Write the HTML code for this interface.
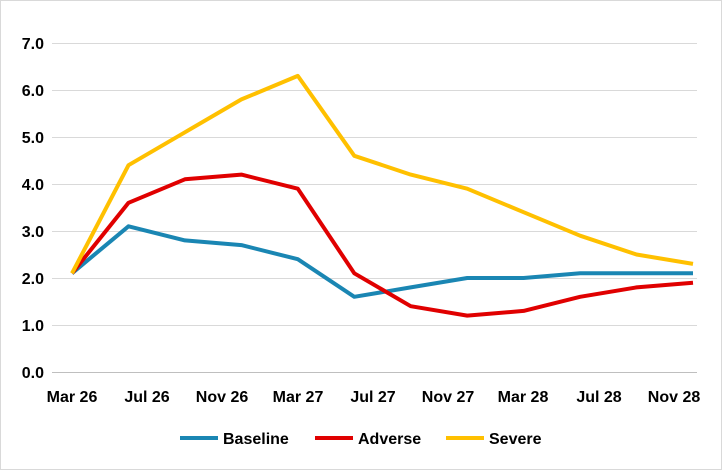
<!DOCTYPE html>
<html><head><style>
body{margin:0;background:#fff;}
svg{display:block;font-family:"Liberation Sans",Arial,sans-serif;}
</style></head><body>
<svg width="722" height="470" viewBox="0 0 722 470" xmlns="http://www.w3.org/2000/svg">
<rect x="0.5" y="0.5" width="721" height="469" fill="#fff" stroke="#d9d9d9"/>
<g stroke="#d9d9d9" stroke-width="1">
<line x1="52" x2="697" y1="43.5" y2="43.5"/>
<line x1="52" x2="697" y1="90.5" y2="90.5"/>
<line x1="52" x2="697" y1="137.5" y2="137.5"/>
<line x1="52" x2="697" y1="184.5" y2="184.5"/>
<line x1="52" x2="697" y1="231.5" y2="231.5"/>
<line x1="52" x2="697" y1="278.5" y2="278.5"/>
<line x1="52" x2="697" y1="325.5" y2="325.5"/>
</g>
<line x1="52" x2="697" y1="372.5" y2="372.5" stroke="#bfbfbf"/>
<g font-size="16" font-weight="bold" fill="#000" text-anchor="end">
<text x="44" y="49">7.0</text><text x="44" y="96">6.0</text><text x="44" y="143">5.0</text>
<text x="44" y="190">4.0</text><text x="44" y="237">3.0</text><text x="44" y="284">2.0</text>
<text x="44" y="331">1.0</text><text x="44" y="378">0.0</text>
</g>
<g font-size="16" font-weight="bold" fill="#000" text-anchor="middle">
<text x="72" y="402">Mar 26</text><text x="147" y="402">Jul 26</text><text x="222" y="402">Nov 26</text>
<text x="298" y="402">Mar 27</text><text x="373" y="402">Jul 27</text><text x="448" y="402">Nov 27</text>
<text x="523" y="402">Mar 28</text><text x="599" y="402">Jul 28</text><text x="674" y="402">Nov 28</text>
</g>
<g fill="none" stroke-width="4" stroke-linejoin="round">
<polyline stroke="#1a86b3" points="72,273.3 128.5,226.3 184.9,240.4 241.4,245.1 297.8,259.2 354.3,296.8 410.7,287.4 467.2,278 523.6,278 580.1,273.3 636.5,273.3 693,273.3"/>
<polyline stroke="#e00000" points="72,273.3 128.5,202.8 184.9,179.3 241.4,174.6 297.8,188.7 354.3,273.3 410.7,306.2 467.2,315.6 523.6,310.9 580.1,296.8 636.5,287.4 693,282.7"/>
<polyline stroke="#ffc000" points="72,273.3 128.5,165.2 184.9,132.3 241.4,99.4 297.8,75.9 354.3,155.8 410.7,174.6 467.2,188.7 523.6,212.2 580.1,235.7 636.5,254.5 693,263.9"/>
</g>
<g font-size="16" font-weight="bold" fill="#000">
<line x1="180" x2="218" y1="438" y2="438" stroke="#1a86b3" stroke-width="4"/>
<text x="223" y="444">Baseline</text>
<line x1="315" x2="353" y1="438" y2="438" stroke="#e00000" stroke-width="4"/>
<text x="358" y="444">Adverse</text>
<line x1="446" x2="484" y1="438" y2="438" stroke="#ffc000" stroke-width="4"/>
<text x="489" y="444">Severe</text>
</g>
</svg>
</body></html>
